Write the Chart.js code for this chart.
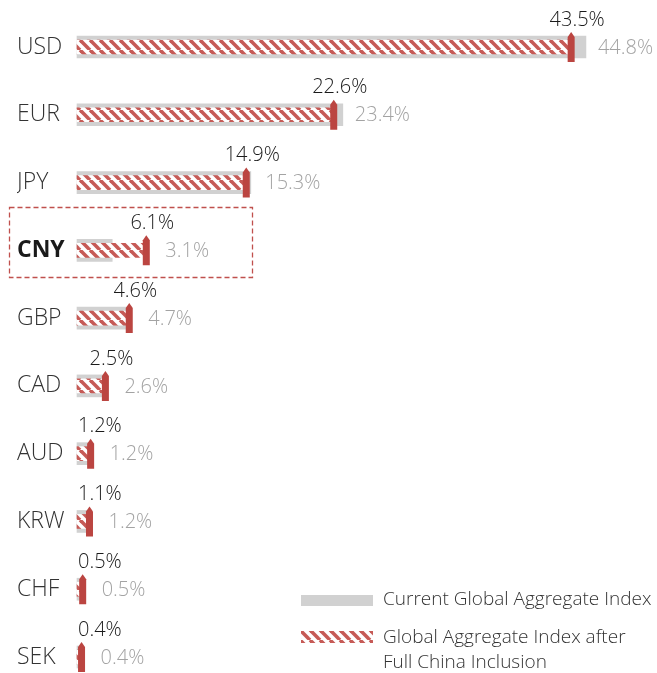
<!DOCTYPE html>
<html><head><meta charset="utf-8">
<script src="https://cdn.jsdelivr.net/npm/chart.js@4.4.0/dist/chart.umd.min.js"></script>
<style>html,body{margin:0;padding:0;background:#fff;overflow:hidden}#wrap{width:657px;height:673px;position:relative}</style>
</head><body><div id="wrap"><canvas id="c" width="657" height="673"></canvas></div>
<script>
const categories = ['USD','EUR','JPY','CNY','GBP','CAD','AUD','KRW','CHF','SEK'];
const currentIndex = [44.8, 23.4, 15.3, 3.1, 4.7, 2.6, 1.2, 1.2, 0.5, 0.4];
const afterInclusion = [43.5, 22.6, 14.9, 6.1, 4.6, 2.5, 1.2, 1.1, 0.5, 0.4];
const seriesCurrent = 'Current Global Aggregate Index';
const seriesAfter = ['Global Aggregate Index after', 'Full China Inclusion'];
const highlighted = 'CNY';

const FONT = "'Open Sans', 'Noto Sans', sans-serif";
const RED = '#bb4541';
const STRIPE = '#c65a56';
const GRAY = '#d1d1d1';

function makeHatch(ctx) {
  const P = 10;
  const t = document.createElement('canvas');
  t.width = P; t.height = P;
  const g = t.getContext('2d');
  g.fillStyle = '#ffffff';
  g.fillRect(0, 0, P, P);
  g.strokeStyle = STRIPE;
  g.lineWidth = 3.6;
  for (let k = -1; k <= 1; k++) {
    g.beginPath();
    g.moveTo(k * P, 0);
    g.lineTo(k * P + P, P);
    g.stroke();
  }
  return ctx.createPattern(t, 'repeat');
}

const canvas = document.getElementById('c');
const ctx0 = canvas.getContext('2d');
const hatch = makeHatch(ctx0);

const overlay = {
  id: 'overlay',
  afterDatasetsDraw(chart) {
    const ctx = chart.ctx;
    const xs = chart.scales.x, ys = chart.scales.y;
    ctx.save();
    afterInclusion.forEach((v, i) => {
      const x = xs.getPixelForValue(v);
      const y = ys.getPixelForValue(i);
      // marker
      ctx.fillStyle = RED;
      ctx.beginPath();
      ctx.moveTo(x - 3.5, y + 15);
      ctx.lineTo(x - 3.5, y - 10);
      ctx.lineTo(x, y - 15);
      ctx.lineTo(x + 3.5, y - 10);
      ctx.lineTo(x + 3.5, y + 15);
      ctx.closePath();
      ctx.fill();
      // black label
      ctx.font = '300 20px ' + FONT;
      ctx.textBaseline = 'middle';
      ctx.fillStyle = '#1a1a1a';
      const txt = v.toFixed(1) + '%';
      const w = ctx.measureText(txt).width;
      let left = x + 6 - w / 2;
      if (left < xs.left + 1) left = xs.left + 1;
      ctx.textAlign = 'left';
      ctx.fillText(txt, left, y - 27);
      // gray label
      const gx = Math.max(xs.getPixelForValue(currentIndex[i]) + 12, x + 19);
      ctx.fillStyle = '#a3a3a3';
      ctx.fillText(currentIndex[i].toFixed(1) + '%', gx, y + 1);
    });
    // highlight box
    const hi = categories.indexOf(highlighted);
    const hy = ys.getPixelForValue(hi);
    ctx.strokeStyle = '#c0504d';
    ctx.lineWidth = 1.3;
    ctx.setLineDash([5, 3]);
    ctx.strokeRect(9.5, Math.round(hy - 43) + 0.5, 243, 70);
    ctx.setLineDash([]);
    // legend
    ctx.fillStyle = GRAY;
    ctx.fillRect(301, 595, 72, 11);
    ctx.fillStyle = hatch;
    ctx.fillRect(301, 631, 72, 12);
    ctx.font = '300 19px ' + FONT;
    ctx.fillStyle = '#333333';
    ctx.textAlign = 'left';
    ctx.textBaseline = 'middle';
    ctx.fillText(seriesCurrent, 383, 600);
    ctx.fillText(seriesAfter[0], 383, 638);
    ctx.fillText(seriesAfter[1], 383, 663);
    ctx.restore();
  }
};

new Chart(canvas, {
  type: 'bar',
  data: {
    labels: categories,
    datasets: [
      { label: seriesAfter.join(' '), data: afterInclusion, backgroundColor: hatch,
        barThickness: 14, grouped: false, order: 0, clip: false },
      { label: seriesCurrent, data: currentIndex, backgroundColor: GRAY,
        barThickness: 22, grouped: false, order: 1, clip: false }
    ]
  },
  options: {
    indexAxis: 'y',
    responsive: false,
    animation: false,
    layout: { padding: { left: 17, right: 12, top: 47, bottom: 16 } },
    plugins: { legend: { display: false }, tooltip: { enabled: false } },
    scales: {
      x: { min: 0, max: 50, display: false },
      y: {
        offset: false,
        grid: { display: false },
        border: { display: false },
        ticks: {
          crossAlign: 'far',
          padding: 0,
          font: (c) => categories[c.index] === highlighted
            ? { family: FONT, size: 23, weight: 'bold' }
            : { family: FONT, size: 23, weight: '300' },
          color: (c) => categories[c.index] === highlighted ? '#1a1a1a' : '#333333'
        },
        afterFit: (s) => { s.width = 60; }
      }
    }
  },
  plugins: [overlay]
});
</script>
</body></html>
